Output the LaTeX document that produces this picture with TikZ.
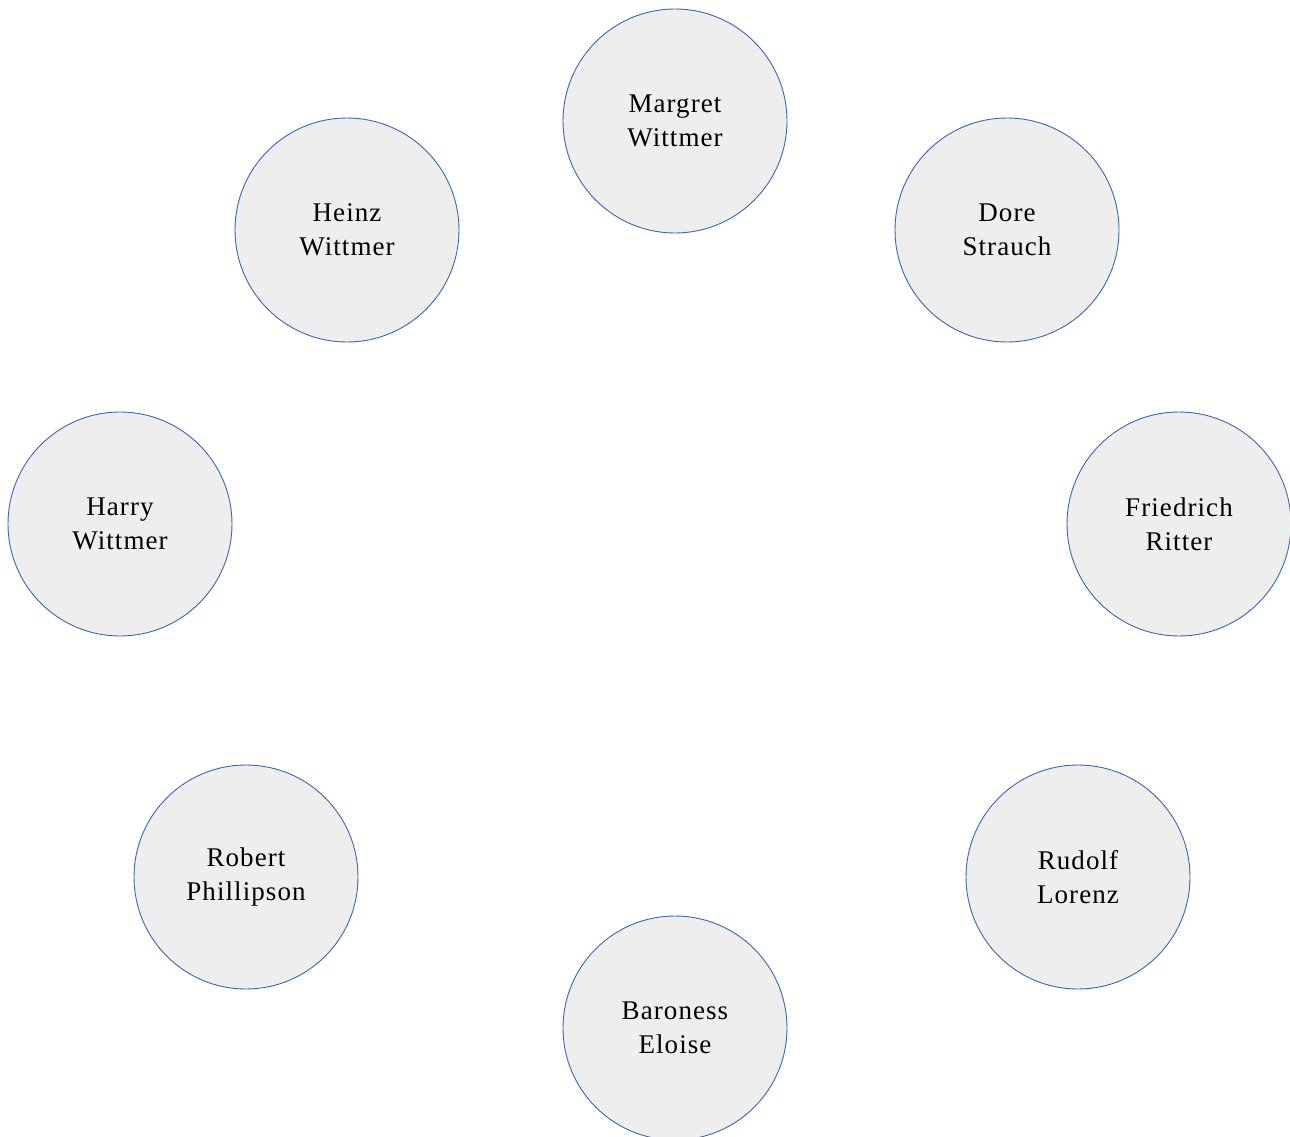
\documentclass[tikz,border=0pt]{standalone}
\usepackage{fontspec}
\setmainfont{Liberation Serif}[LetterSpace=4]
\definecolor{nodefill}{HTML}{EEEEEE}
\definecolor{nodeline}{HTML}{3B67AE}
\begin{document}
\begin{tikzpicture}[x=1pt,y=-1pt,
  person/.style={circle,draw=nodeline,fill=nodefill,line width=0.9pt,minimum size=224pt,inner sep=0pt,align=center,
    font=\fontsize{27}{34}\selectfont}]
\useasboundingbox (0,0) rectangle (1290,1137);
\node[person] (margret) at (675,121) {Margret\\Wittmer};
\node[person] (heinz) at (347,230) {Heinz\\Wittmer};
\node[person] (dore) at (1007,230) {Dore\\Strauch};
\node[person] (harry) at (120,524) {Harry\\Wittmer};
\node[person] (friedrich) at (1179,524) {Friedrich\\Ritter};
\node[person] (robert) at (246,877) {Robert\\Phillipson};
\node[person] (rudolf) at (1078,877) {Rudolf\\Lorenz};
\node[person] (baroness) at (675,1028) {Baroness\\Eloise};
\end{tikzpicture}
\end{document}
